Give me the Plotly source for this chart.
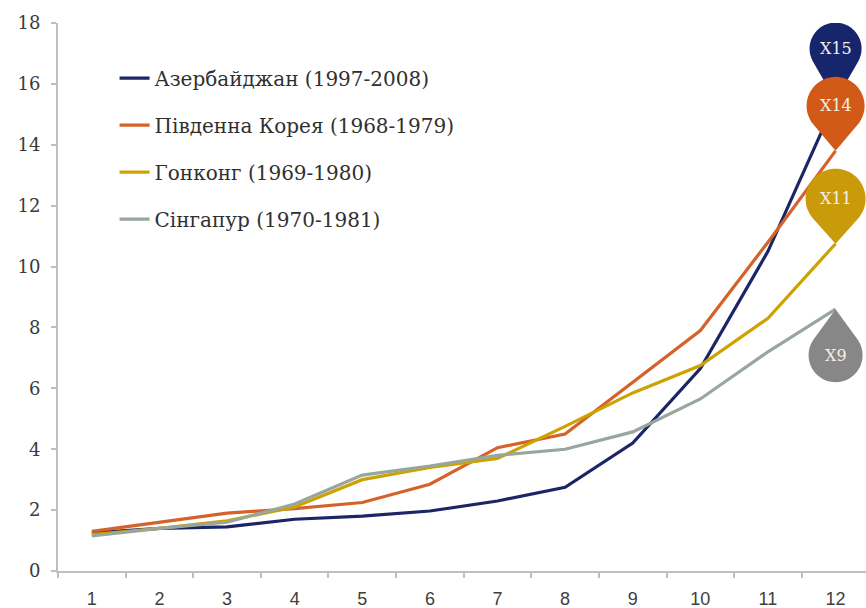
import math
import plotly.graph_objects as go

periods = list(range(1, 13))
series_names = ["Азербайджан (1997-2008)", "Південна Корея (1968-1979)",
                "Гонконг (1969-1980)", "Сінгапур (1970-1981)"]
azerbaijan = [1.25, 1.4, 1.45, 1.7, 1.8, 1.97, 2.3, 2.75, 4.2, 6.65, 10.5, 15.45]
korea = [1.3, 1.6, 1.9, 2.05, 2.25, 2.85, 4.05, 4.5, 6.2, 7.9, 10.8, 13.8]
hongkong = [1.2, 1.4, 1.65, 2.1, 3.0, 3.4, 3.7, 4.75, 5.85, 6.75, 8.3, 10.75]
singapore = [1.15, 1.4, 1.6, 2.2, 3.15, 3.45, 3.8, 4.0, 4.57, 5.65, 7.2, 8.6]
multipliers = ["X15", "X14", "X11", "X9"]
pin_up = [True, True, True, False]  # bubble above (True) or below (False) the end point

line_colors = ["#1c2566", "#d4622a", "#cca300", "#98a69c"]
pin_colors = ["#17266c", "#d15a19", "#c99a0a", "#878787"]
pin_offsets = [52, 45, 45, 46]
pin_radii = [26, 29, 30, 27]
all_series = [azerbaijan, korea, hongkong, singapore]

fig = go.Figure()
for i, (name, vals) in enumerate(zip(series_names, all_series)):
    fig.add_trace(go.Scatter(
        x=periods, y=vals, mode="lines", name=name,
        legendgroup=f"g{i}",
        line=dict(color=line_colors[i], width=3.2),
    ))


def pin_path(up, R, D):
    sgn = 1 if up else -1
    beta = math.acos(R / D)
    pts = [(0, 0)]
    start = -math.pi / 2 + beta
    end = -math.pi / 2 - beta + 2 * math.pi
    n = 48
    for k in range(n + 1):
        a = start + (end - start) * k / n
        pts.append((R * math.cos(a), sgn * (D + R * math.sin(a))))
    return "M " + " L ".join(f"{x:.2f},{y:.2f}" for x, y in pts) + " Z"


for i, vals in enumerate(all_series):
    fig.add_shape(type="path", xref="x", yref="y",
                  xsizemode="pixel", ysizemode="pixel",
                  xanchor=periods[-1], yanchor=vals[-1],
                  path=pin_path(pin_up[i], pin_radii[i], pin_offsets[i]),
                  fillcolor=pin_colors[i], line=dict(width=0), layer="above")
    fig.add_annotation(x=periods[-1], y=vals[-1], text=multipliers[i],
                       showarrow=False,
                       yshift=pin_offsets[i] if pin_up[i] else -pin_offsets[i],
                       font=dict(family="DejaVu Serif", size=16, color="#f4f0e8"))

fig.update_layout(
    width=866, height=608,
    margin=dict(l=58, r=0, t=23, b=37, autoexpand=False),
    paper_bgcolor="white", plot_bgcolor="white",
    showlegend=True,
    legend=dict(x=0.07, y=0.935, xanchor="left", yanchor="top",
                bgcolor="rgba(0,0,0,0)", tracegroupgap=18, itemwidth=30,
                font=dict(family="DejaVu Serif", size=20, color="#303030")),
    xaxis=dict(range=[0.5, 12.45], tickmode="array", tickvals=periods,
               ticktext=[str(p) for p in periods], ticks="",
               showgrid=False, zeroline=False, showline=True,
               linecolor="#bfbfbf", linewidth=2, automargin=False,
               ticklabelstandoff=10,
               tickfont=dict(family="Liberation Sans", size=18, color="#404040"),
               minor=dict(tick0=0.5, dtick=1, ticks="outside", ticklen=5,
                          tickcolor="#bfbfbf", tickwidth=2, showgrid=False)),
    yaxis=dict(range=[0, 18], tickmode="array", tickvals=list(range(0, 19, 2)),
               ticks="outside", ticklen=5, tickcolor="#bfbfbf", tickwidth=2,
               showgrid=False, zeroline=False, showline=True,
               linecolor="#bfbfbf", linewidth=2, automargin=False,
               ticklabelstandoff=7,
               tickfont=dict(family="DejaVu Serif", size=18, color="#3a3a3a")),
)

fig.write_html("out.html", config={"displayModeBar": False},
               post_script="document.body.style.margin='0';document.body.style.overflow='hidden';")
